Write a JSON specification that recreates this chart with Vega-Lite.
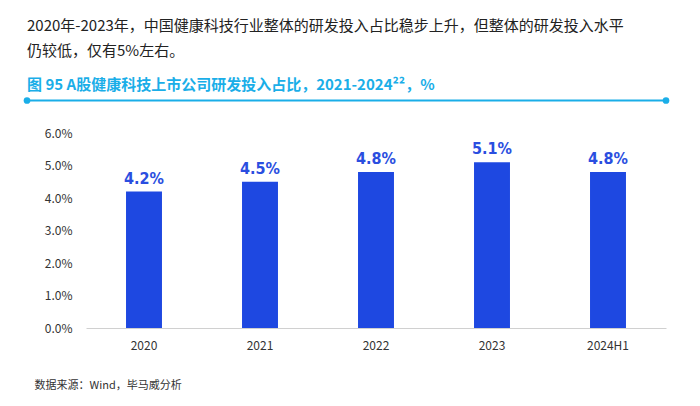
{
  "$schema": "https://vega.github.io/schema/vega-lite/v6.json",
  "autosize": "none",
  "width": 580,
  "height": 195,
  "padding": {"left": 86, "top": 133, "right": 34, "bottom": 78},
  "background": "white",
  "config": {
    "view": {"stroke": null},
    "font": "Noto Sans CJK SC",
    "axisY": {"labelOverlap": false, "labelFlush": false}
  },
  "title": {
    "text": ["2020年-2023年，中国健康科技行业整体的研发投入占比稳步上升，但整体的研发投入水平", "仍较低，仅有5%左右。"],
    "subtitle": "图 95 A股健康科技上市公司研发投入占比，2021-2024²²，%",
    "anchor": "start",
    "frame": "group",
    "dx": -59,
    "offset": 4,
    "font": "Noto Sans CJK SC",
    "fontSize": 15,
    "fontWeight": "normal",
    "lineHeight": 25,
    "color": "#222222",
    "subtitleFont": "Noto Sans CJK SC",
    "subtitleFontSize": 15,
    "subtitleFontWeight": "bold",
    "subtitleColor": "#1aaee8",
    "subtitlePadding": 19
  },
  "layer": [
    {
      "data": {
        "values": [
          {"year": "2020", "ratio": 0.042},
          {"year": "2021", "ratio": 0.045},
          {"year": "2022", "ratio": 0.048},
          {"year": "2023", "ratio": 0.051},
          {"year": "2024H1", "ratio": 0.048}
        ]
      },
      "encoding": {
        "x": {
          "field": "year",
          "type": "nominal",
          "sort": null,
          "scale": {"paddingInner": 0.69, "paddingOuter": 0.345},
          "axis": {
            "labelAngle": 0,
            "labelFontSize": 12,
            "labelColor": "#333333",
            "labelPadding": 12,
            "ticks": false,
            "domainColor": "#d0d0d0",
            "grid": false,
            "title": "数据来源：Wind，毕马威分析",
            "titleFontSize": 11,
            "titleFontWeight": "normal",
            "titleColor": "#333333",
            "titleAlign": "left",
            "titleAnchor": "start",
            "titleX": -52,
            "titleY": 57,
            "titleBaseline": "middle"
          }
        },
        "y": {
          "field": "ratio",
          "type": "quantitative",
          "scale": {"domain": [0, 0.06], "nice": false},
          "axis": {
            "values": [0, 0.01, 0.02, 0.03, 0.04, 0.05, 0.06],
            "tickCount": 7,
            "format": ".1%",
            "labelFontSize": 12,
            "labelColor": "#333333",
            "labelPadding": 14,
            "labelOverlap": false,
            "ticks": false,
            "domain": false,
            "grid": false,
            "title": null
          }
        }
      },
      "layer": [
        {"mark": {"type": "bar", "color": "#1e48e1"}},
        {
          "mark": {
            "type": "text",
            "font": "DejaVu Sans Condensed, Roboto, sans-serif",
            "fontSize": 16,
            "fontWeight": "bold",
            "color": "#2a4ee0",
            "baseline": "bottom",
            "dy": -5
          },
          "encoding": {
            "text": {"field": "ratio", "type": "quantitative", "format": ".1%"}
          }
        }
      ]
    },
    {
      "data": {"values": [{"p": -0.1017}, {"p": 1}]},
      "layer": [
        {
          "mark": {"type": "rule", "color": "#1aaee8", "strokeWidth": 2},
          "encoding": {
            "x": {"aggregate": "min", "field": "p", "type": "quantitative", "scale": {"domain": [0, 1], "nice": false, "zero": false}, "axis": null},
            "x2": {"aggregate": "max", "field": "p"},
            "y": {"datum": 0.07, "type": "quantitative"}
          }
        },
        {
          "mark": {"type": "point", "filled": true, "color": "#1aaee8", "size": 45, "opacity": 1},
          "encoding": {
            "x": {"field": "p", "type": "quantitative", "scale": {"domain": [0, 1], "nice": false, "zero": false}, "axis": null},
            "y": {"datum": 0.07, "type": "quantitative"}
          }
        }
      ]
    }
  ],
  "resolve": {"scale": {"x": "independent"}}
}
